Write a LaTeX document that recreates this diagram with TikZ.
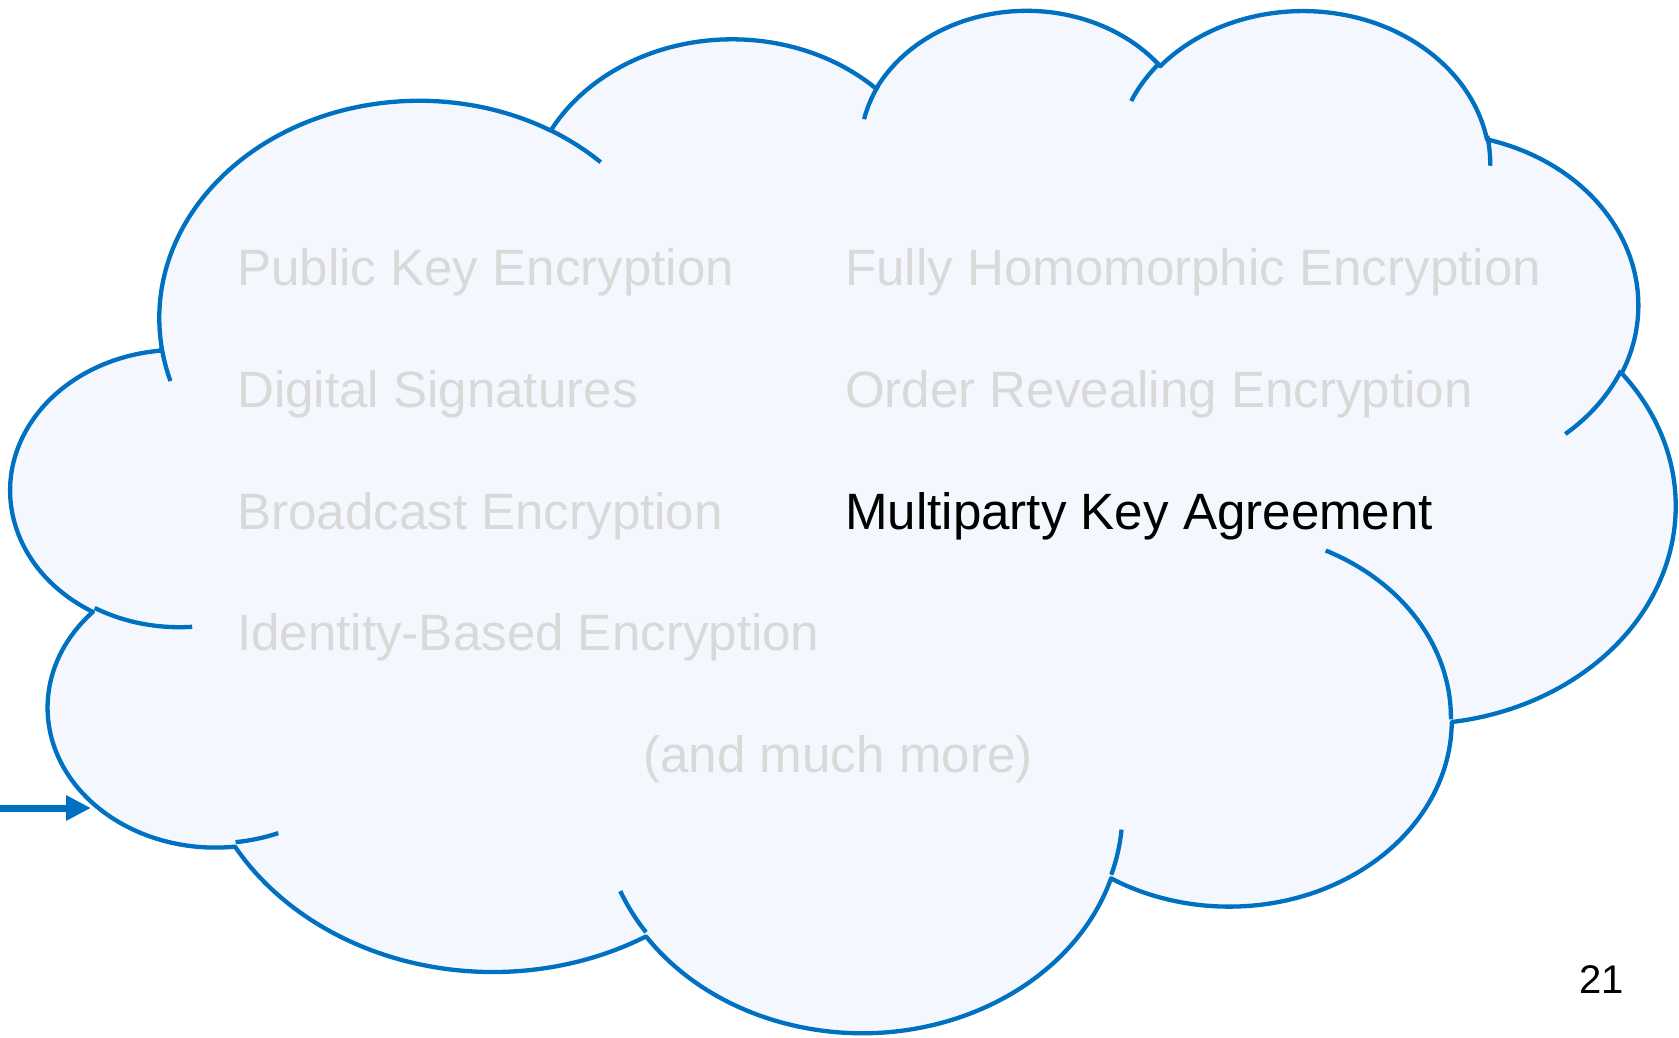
\documentclass[tikz,border=0pt]{standalone}
\usepackage{fontspec}
\setmainfont{Liberation Sans}
\usetikzlibrary{arrows.meta}

\definecolor{cloudline}{RGB}{0,112,192}
\definecolor{cloudfill}{RGB}{244,248,254}
\definecolor{fadedtext}{RGB}{217,217,217}

% Each cloud lobe is an elliptical arc given by its polar start angle and
% sweep; TikZ arcs take parametric angles, so convert them here.
% #1 name, #2 x radius, #3 y radius, #4 start angle, #5 sweep
\newcommand\lobeangles[5]{%
  \pgfmathsetmacro\lobetmp{atan2((#2)*sin(#4),(#3)*cos(#4))}%
  \pgfmathsetmacro\lobetmp{\lobetmp+360*round(((#4)-\lobetmp)/360)}%
  \expandafter\xdef\csname lobes#1\endcsname{\lobetmp}%
  \pgfmathsetmacro\lobeend{(#4)+(#5)}%
  \pgfmathsetmacro\lobetmp{atan2((#2)*sin(\lobeend),(#3)*cos(\lobeend))}%
  \pgfmathsetmacro\lobetmp{\lobetmp+360*round((\lobeend-\lobetmp)/360)}%
  \expandafter\xdef\csname lobee#1\endcsname{\lobetmp}%
}

% outline lobes
\lobeangles{A}{6.753}{9.190}{-190.48748}{123.78053}
\lobeangles{B}{5.333}{7.267}{-144.10238}{89.94523}
\lobeangles{C}{4.365}{5.945}{-145.80792}{99.72302}
\lobeangles{D}{4.857}{6.595}{-130.98607}{117.24173}
\lobeangles{E}{5.333}{7.273}{-78.70888}{109.02692}
\lobeangles{F}{6.775}{9.220}{-46.26725}{130.269}
\lobeangles{G}{5.785}{7.867}{0.62502}{114.03333}
\lobeangles{H}{6.752}{9.215}{22.4516}{115.17255}
\lobeangles{I}{7.720}{10.543}{66.24263}{75.71102}
\lobeangles{J}{4.360}{5.918}{-274.94208}{146.73557}
\lobeangles{K}{4.345}{5.945}{-246.8285}{152.51885}
% inner creases
\lobeangles{a}{4.345}{5.945}{86.742}{26.4295}
\lobeangles{b}{4.360}{5.918}{73.61047}{11.44747}
\lobeangles{c}{6.752}{9.215}{137.62415}{14.0811}
\lobeangles{d}{6.752}{9.215}{6.45327}{15.99835}
\lobeangles{e}{5.785}{7.867}{-70.29235}{70.91737}
\lobeangles{f}{5.333}{7.273}{30.31803}{27.7515}
\lobeangles{g}{4.857}{6.595}{-13.74433}{14.8589}
\lobeangles{h}{4.857}{6.595}{-149.18145}{18.19537}
\lobeangles{i}{4.365}{5.945}{-163.49427}{17.68635}
\lobeangles{j}{6.753}{9.190}{-66.70695}{12.31935}
\lobeangles{k}{6.753}{9.190}{157.65435}{11.85817}

\begin{document}
\begin{tikzpicture}[x=1pt, y=-1pt,
  cloudedge/.style={draw=cloudline, line width=4.3pt, line join=round},
  faded/.style={text=fadedtext, font=\fontsize{51.1}{60}\selectfont, inner sep=0pt, anchor=base west},
  strong/.style={faded, text=black},
  flow/.style={draw=cloudline, line width=7pt, -{Triangle[length=25pt, width=24pt]}}]
\useasboundingbox (0,0) rectangle (1679,1037);

\begin{scope}[shift={(11.5,7.5)}, x=38.507pt, y=-23.657pt]
  % cloud outline
  \path[cloudedge, fill=cloudfill] (3.900,14.370)
    arc[start angle=\lobesA, end angle=\lobeeA, x radius=6.753, y radius=9.190]
    arc[start angle=\lobesB, end angle=\lobeeB, x radius=5.333, y radius=7.267]
    arc[start angle=\lobesC, end angle=\lobeeC, x radius=4.365, y radius=5.945]
    arc[start angle=\lobesD, end angle=\lobeeD, x radius=4.857, y radius=6.595]
    arc[start angle=\lobesE, end angle=\lobeeE, x radius=5.333, y radius=7.273]
    arc[start angle=\lobesF, end angle=\lobeeF, x radius=6.775, y radius=9.220]
    arc[start angle=\lobesG, end angle=\lobeeG, x radius=5.785, y radius=7.867]
    arc[start angle=\lobesH, end angle=\lobeeH, x radius=6.752, y radius=9.215]
    arc[start angle=\lobesI, end angle=\lobeeI, x radius=7.720, y radius=10.543]
    arc[start angle=\lobesJ, end angle=\lobeeJ, x radius=4.360, y radius=5.918]
    arc[start angle=\lobesK, end angle=\lobeeK, x radius=4.345, y radius=5.945]
    -- cycle;
  % creases where the lobes overlap
  \path[cloudedge]
    (4.693,26.177) arc[start angle=\lobesa, end angle=\lobeea, x radius=4.345, y radius=5.945]
    (6.928,34.899) arc[start angle=\lobesb, end angle=\lobeeb, x radius=4.360, y radius=5.918]
    (16.478,39.090) arc[start angle=\lobesc, end angle=\lobeec, x radius=6.752, y radius=9.215]
    (28.827,34.751) arc[start angle=\lobesd, end angle=\lobeed, x radius=6.752, y radius=9.215]
    (34.129,22.954) arc[start angle=\lobese, end angle=\lobeee, x radius=5.785, y radius=7.867]
    (41.798,15.354) arc[start angle=\lobesf, end angle=\lobeef, x radius=5.333, y radius=7.273]
    (38.324,5.426) arc[start angle=\lobesg, end angle=\lobeeg, x radius=4.857, y radius=6.595]
    (29.078,3.952) arc[start angle=\lobesh, end angle=\lobeeh, x radius=4.857, y radius=6.595]
    (22.141,4.720) arc[start angle=\lobesi, end angle=\lobeei, x radius=4.365, y radius=5.945]
    (14.000,5.192) arc[start angle=\lobesj, end angle=\lobeej, x radius=6.753, y radius=9.190]
    (4.127,15.789) arc[start angle=\lobesk, end angle=\lobeek, x radius=6.753, y radius=9.190];
\end{scope}

% primitives listed inside the cloud
\node[faded] (pke) at (237,285) {Public Key Encryption};
\node[faded] (sig) at (237,407) {Digital Signatures};
\node[faded] (be)  at (237,529) {Broadcast Encryption};
\node[faded] (ibe) at (237,650) {Identity-Based Encryption};
\node[faded] (fhe) at (845,285) {Fully Homomorphic Encryption};
\node[faded] (ore) at (845,407) {Order Revealing Encryption};
\node[strong] (mka) at (845,529) {Multiparty Key Agreement};
\node[faded, anchor=base] (more) at (838,772) {(and much more)};

% page number
\node[inner sep=0pt, anchor=base west, font=\fontsize{40}{48}\selectfont] (page) at (1579,993) {21};

% incoming arrow
\coordinate (arrowtail) at (0,808);
\coordinate (arrowtip) at (91,808);
\draw[flow] (arrowtail) -- (arrowtip);
\end{tikzpicture}
\end{document}
